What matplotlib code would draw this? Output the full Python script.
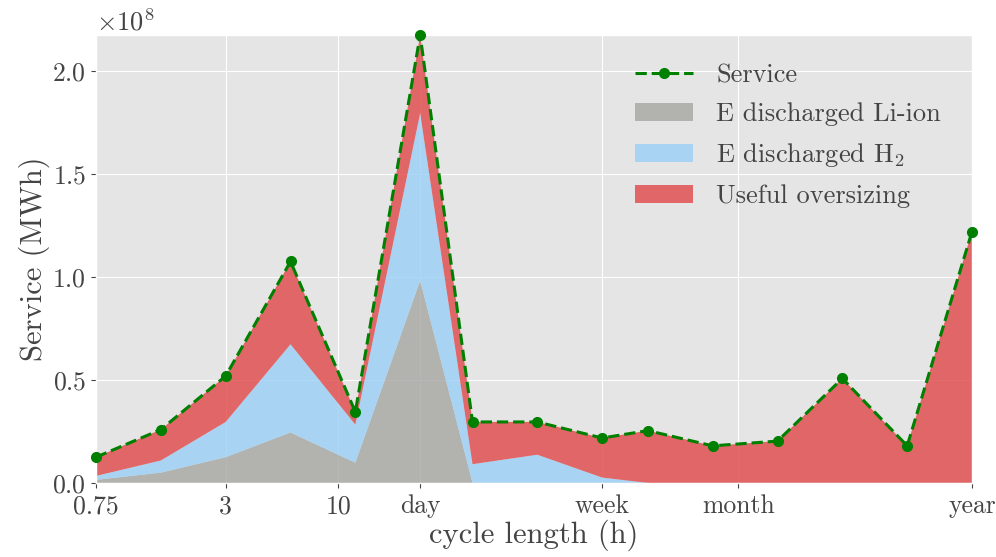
import matplotlib
matplotlib.use('Agg')
import matplotlib.pyplot as plt
import numpy as np

# cycle lengths (h) and energies (x1e8 MWh)
hours = [0.75, 1.5, 3, 6, 12, 24, 42, 84, 168, 273.75, 547.5, 1095, 2190, 4380, 8760]
service = [0.125, 0.259, 0.519, 1.075, 0.345, 2.174, 0.296, 0.296, 0.218, 0.254, 0.180, 0.203, 0.507, 0.180, 1.22]
e_li_ion = [0.015, 0.05, 0.125, 0.245, 0.098, 0.982, 0, 0, 0, 0, 0, 0, 0, 0, 0]
e_h2 = [0.019, 0.059, 0.171, 0.428, 0.185, 0.813, 0.091, 0.137, 0.026, 0, 0, 0, 0, 0, 0]
oversizing = [0.091, 0.150, 0.223, 0.402, 0.062, 0.379, 0.205, 0.159, 0.192, 0.254, 0.180, 0.203, 0.507, 0.180, 1.22]

tick_pos = [0.75, 3, 10, 24, 168, 720, 8760]
tick_labels = ['0.75', '3', '10', 'day', 'week', 'month', 'year']

plt.style.use('ggplot')
plt.rcParams['font.family'] = 'serif'
plt.rcParams['font.serif'] = ['cmr10']
plt.rcParams['mathtext.fontset'] = 'cm'
plt.rcParams['axes.formatter.use_mathtext'] = True
plt.rcParams['axes.unicode_minus'] = False

scale = 1e8
fig = plt.figure(figsize=(9.96, 5.57), dpi=100)
ax = fig.add_axes([0.0964, 0.133, 0.8795, 0.804])

ax.stackplot(hours,
             np.array(e_li_ion) * scale,
             np.array(e_h2) * scale,
             np.array(oversizing) * scale,
             colors=['#a7a8a4', '#9bd0f6', '#e04a4b'], alpha=0.82,
             labels=['E discharged Li-ion', r'E discharged H$_2$', 'Useful oversizing'])
ax.plot(hours, np.array(service) * scale, '--o', color='green', lw=2.2, ms=7,
        label='Service', zorder=5, clip_on=False)

ax.set_xscale('log')
ax.set_xlim(0.75, 8760)
ax.set_ylim(0, max(service) * scale)
ax.set_xticks(tick_pos)
ax.set_xticklabels(tick_labels)
ax.minorticks_off()
ax.set_yticks(np.arange(0, 2.01, 0.5) * scale)
ax.tick_params(labelsize=18.5, colors='#444444')
ax.tick_params(axis='x', pad=5)
ax.yaxis.get_offset_text().set_fontsize(19)
ax.yaxis.get_offset_text().set_color('#444444')
ax.set_xlabel('cycle length (h)', fontsize=22, color='#444444', labelpad=1)
ax.set_ylabel('Service (MWh)', fontsize=22, color='#444444', labelpad=2)

handles, labels = ax.get_legend_handles_labels()
order = [3, 0, 1, 2]
ax.legend([handles[i] for i in order], [labels[i] for i in order],
          loc='upper right', bbox_to_anchor=(0.992, 0.99), frameon=False,
          fontsize=19, labelcolor='#444444', handlelength=2.2, handletextpad=0.9,
          labelspacing=0.58)

fig.savefig('out.png', dpi=100)
